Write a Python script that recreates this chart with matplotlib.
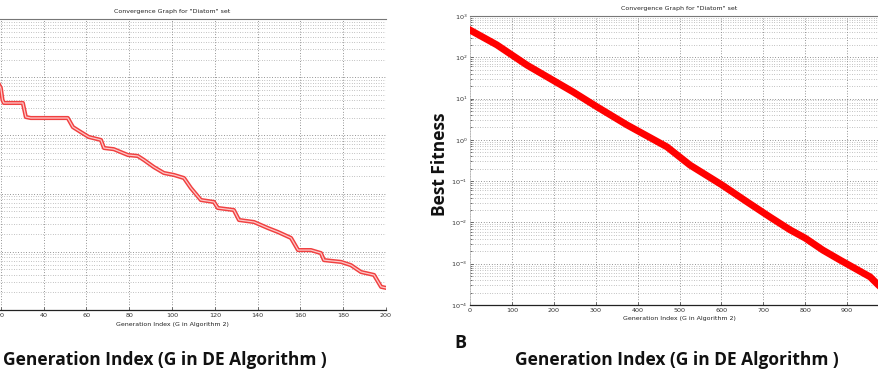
import matplotlib.pyplot as plt
from matplotlib.ticker import LogLocator, NullFormatter, FixedLocator

# ---------------- data ----------------
title_text = 'Convergence Graph for "Diatom" set'
small_xlabel = 'Generation Index (G in Algorithm 2)'
big_xlabel = 'Generation Index (G in DE Algorithm )'
ylabel_text = 'Best Fitness'
panel_letter = 'B'

left_gen = [18, 20, 20.8, 21.4, 30.3, 31.7, 34, 51.3, 53.7, 57.4, 61.1, 66.8, 68.2,
            72.8, 79.4, 84, 86.9, 91.5, 96.2, 100.9, 105.6, 108.8, 113.5, 119.6,
            121.4, 128.9, 131.3, 138.3, 144.8, 149.5, 155.6, 158.9, 164.9, 169.6,
            171, 179, 183.6, 188.3, 194.4, 197.7, 200]
left_fit = [9000, 6520, 4060, 3610, 3610, 2070, 1990, 1990, 1390, 1140, 940, 834, 608,
            580, 460, 443, 378, 286, 226, 209, 185, 125, 77.6, 71.8,
            56.6, 52.2, 35.2, 32.5, 25.6, 21.9, 17.3, 10.7, 10.7, 9.5,
            7.2, 6.7, 5.9, 4.5, 4.0, 2.5, 2.4]
left_xticks = [0, 20, 40, 60, 80, 100, 120, 140, 160, 180, 200]

right_gen = [0, 64, 136, 246, 303, 375, 470, 525, 601, 661, 716, 764, 800, 842,
             883, 955, 974, 1000]
right_fit = [457, 200, 64.6, 14.5, 6.31, 2.29, 0.676, 0.245, 0.0813, 0.0316, 0.0135,
             0.0066, 0.00417, 0.00214, 0.00123, 0.000479, 0.000309, 0.000178]
right_xticks = [0, 100, 200, 300, 400, 500, 600, 700, 800, 900]
right_yticks = [1e-4, 1e-3, 1e-2, 1e-1, 1e0, 1e1, 1e2, 1e3]

# ---------------- figure ----------------
W, H = 879, 381
fig = plt.figure(figsize=(W / 100, H / 100), dpi=100)
fig.patch.set_facecolor('white')


def px_axes(x0, top, x1, bottom):
    return fig.add_axes([x0 / W, 1 - bottom / H, (x1 - x0) / W, (bottom - top) / H])


def style_axes(ax):
    ax.set_yscale('log')
    ax.yaxis.set_minor_locator(LogLocator(base=10, subs=range(2, 10), numticks=50))
    ax.yaxis.set_minor_formatter(NullFormatter())
    ax.grid(True, which='major', axis='both', color='#555555', linestyle=(0, (1, 2.5)), linewidth=0.55)
    ax.grid(True, which='minor', axis='y', color='#8a8a8a', linestyle=(0, (1, 2.5)), linewidth=0.5)
    ax.tick_params(which='both', direction='in', length=2.5, width=0.5, labelsize=4.6,
                   colors='#333333', pad=2)
    ax.tick_params(which='minor', length=1.5)
    ax.spines['top'].set_color('#777777')
    ax.spines['top'].set_linewidth(0.8)
    ax.spines['right'].set_visible(False)
    ax.spines['left'].set_color('#bbbbbb')
    ax.spines['left'].set_linewidth(0.5)
    ax.spines['bottom'].set_color('#222222')
    ax.spines['bottom'].set_linewidth(0.9)


# left panel (cropped on its left side)
axL = px_axes(-42, 19, 386, 310)
style_axes(axL)
axL.set_xlim(0, 200)
axL.set_ylim(1e0, 1e5)
axL.set_xticks(left_xticks)
axL.yaxis.set_major_locator(FixedLocator([1e0, 1e1, 1e2, 1e3, 1e4, 1e5]))
axL.set_yticklabels([])
axL.plot(left_gen, left_fit, color='#f04040', linewidth=3.0, solid_joinstyle='round', zorder=3)
axL.plot(left_gen, left_fit, color='#ffc8c8', linewidth=0.9, zorder=4)
axL.set_title(title_text, fontsize=4.5, pad=4, color='#222222')
axL.set_xlabel(small_xlabel, fontsize=4.5, labelpad=3, color='#222222')

# right panel (cropped on its right side)
axR = px_axes(470, 16, 889, 305)
style_axes(axR)
axR.set_xlim(0, 1000)
axR.set_ylim(1e-4, 1e3)
axR.set_xticks(right_xticks)
axR.yaxis.set_major_locator(FixedLocator(right_yticks))
axR.plot(right_gen, right_fit, color='#ff0000', linewidth=5.0, solid_joinstyle='round', zorder=3)
axR.set_title(title_text, fontsize=4.5, pad=4, color='#222222')
axR.set_xlabel(small_xlabel, fontsize=4.5, labelpad=2, color='#222222')

# bold annotation texts
bold_font = dict(family=['Open Sans', 'DejaVu Sans'], fontweight='bold', color='#111111')
fig.text(165 / W, 1 - 360 / H, big_xlabel, ha='center', va='center', fontsize=12.5, **bold_font)
fig.text(677 / W, 1 - 360 / H, big_xlabel, ha='center', va='center', fontsize=12.5, **bold_font)
fig.text(460 / W, 1 - 343 / H, panel_letter, ha='center', va='center', fontsize=13, **bold_font)
fig.text(440 / W, 1 - 164 / H, ylabel_text, ha='center', va='center', rotation=90,
         fontsize=12.5, **bold_font)

fig.savefig('out.png', dpi=100, facecolor='white')
